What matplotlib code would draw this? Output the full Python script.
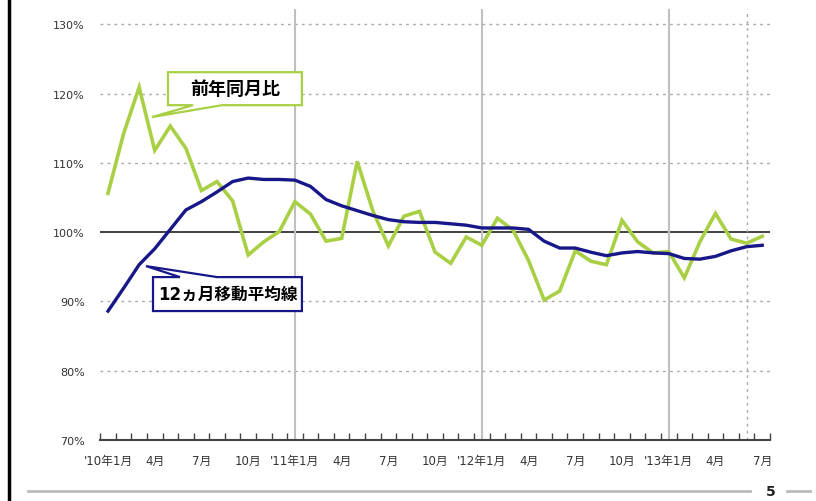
import matplotlib.pyplot as plt
from matplotlib.patches import Polygon
from matplotlib.lines import Line2D

plt.rcParams['font.family'] = ['DejaVu Sans', 'Noto Sans CJK JP']

# 前年同月比 (%), '10年1月 .. '13年7月
yoy = [105.6, 114.2, 120.9, 111.8, 115.3, 112.1, 106.0, 107.3, 104.5, 96.7,
       98.6, 100.1, 104.4, 102.6, 98.7, 99.1, 110.2, 103.1, 98.0, 102.3,
       103.0, 97.1, 95.5, 99.3, 98.1, 102.0, 100.3, 95.9, 90.2, 91.5,
       97.3, 95.8, 95.3, 101.7, 98.6, 97.0, 97.2, 93.4, 98.6, 102.7,
       99.0, 98.4, 99.4]
# 12ヵ月移動平均線 (%)
ma12 = [88.6, 91.9, 95.3, 97.6, 100.4, 103.2, 104.4, 105.8, 107.3, 107.8,
        107.6, 107.6, 107.5, 106.6, 104.7, 103.8, 103.1, 102.4, 101.8, 101.5,
        101.4, 101.4, 101.2, 101.0, 100.6, 100.6, 100.6, 100.4, 98.7, 97.7,
        97.7, 97.1, 96.6, 97.0, 97.2, 97.0, 96.9, 96.2, 96.1, 96.5,
        97.3, 97.9, 98.1]
tick_labels = ["'10年1月", "4月", "7月", "10月", "'11年1月", "4月", "7月", "10月",
               "'12年1月", "4月", "7月", "10月", "'13年1月", "4月", "7月"]
y_ticks = [70, 80, 90, 100, 110, 120, 130]

n = len(yoy)
x = list(range(n))

fig = plt.figure(figsize=(8.16, 5.02), dpi=100)
ax = fig.add_axes([0.1228, 0.1215, 0.8208, 0.8586])
ax.set_xlim(-0.5, n - 0.5)
ax.set_ylim(70, 132.2)

# grid
for v in y_ticks[1:]:
    if v == 100:
        ax.axhline(v, color='#333333', lw=1.3, zorder=1)
    else:
        ax.axhline(v, color='#aaaaaa', lw=1, ls=(0, (2, 3)), zorder=1)
for i in (12, 24, 36):
    ax.axvline(i, color='#c0c0c0', lw=1.5, zorder=1)
ax.axvline(41, color='#aaaaaa', lw=1, ls=(0, (2, 3)), zorder=1)

ax.plot(x, yoy, color='#a9d044', lw=2.6, zorder=3, solid_joinstyle='miter')
ax.plot(x, ma12, color='#17178a', lw=2.4, zorder=4)

# axes styling
for s in ('left', 'right', 'top'):
    ax.spines[s].set_visible(False)
ax.spines['bottom'].set_color('#444444')
ax.spines['bottom'].set_linewidth(1.5)
ax.set_yticks(y_ticks)
ax.set_yticklabels([f'{v}%' for v in y_ticks], fontsize=8, color='#333333')
ax.tick_params(axis='y', length=0, pad=11)
ax.set_xticks([i - 0.5 for i in range(n + 1)])
ax.set_xticklabels([])
ax.tick_params(axis='x', which='major', direction='in', length=5, width=1, color='#444444')
ax.set_xticks(list(range(0, n, 3)), minor=True)
ax.set_xticklabels(tick_labels, minor=True, fontsize=8.5, color='#333333')
ax.tick_params(axis='x', which='minor', length=0, pad=10)


def bubble(x0, x1, y0, y1, b0, b1, tip, base_y, color):
    if base_y == y0:
        pts = [(x0, y1), (x1, y1), (x1, y0), (b1, y0), tip, (b0, y0), (x0, y0)]
    else:
        pts = [(x0, y0), (x1, y0), (x1, y1), (b1, y1), tip, (b0, y1), (x0, y1)]
    ax.add_patch(Polygon(pts, closed=True, facecolor='white', edgecolor=color,
                         lw=1.6, zorder=6, clip_on=False, joinstyle='miter'))


bubble(3.85, 12.45, 118.32, 123.08, 5.46, 7.32, (2.82, 116.6), 118.32, '#a9d044')
ax.text(8.15, 120.7, '前年同月比', ha='center', va='center', fontsize=13,
        fontweight='bold', zorder=7)
bubble(2.89, 12.45, 88.61, 93.51, 4.62, 7.0, (2.44, 95.1), 93.51, '#17178a')
ax.text(7.7, 91.06, '12ヵ月移動平均線', ha='center', va='center', fontsize=12,
        fontweight='bold', zorder=7)

# page decorations
fig.add_artist(Line2D([9 / 816, 9 / 816], [0, 1], color='black', lw=2.5))
fig.add_artist(Line2D([28 / 816, 750 / 816], [10 / 502, 10 / 502], color='#bbbbbb', lw=2))
fig.add_artist(Line2D([787 / 816, 810 / 816], [10 / 502, 10 / 502], color='#bbbbbb', lw=2))
fig.text(771 / 816, 10 / 502, '5', ha='center', va='center', fontsize=10, fontweight='bold',
         color='#222222')

fig.savefig('out.png', dpi=100)
